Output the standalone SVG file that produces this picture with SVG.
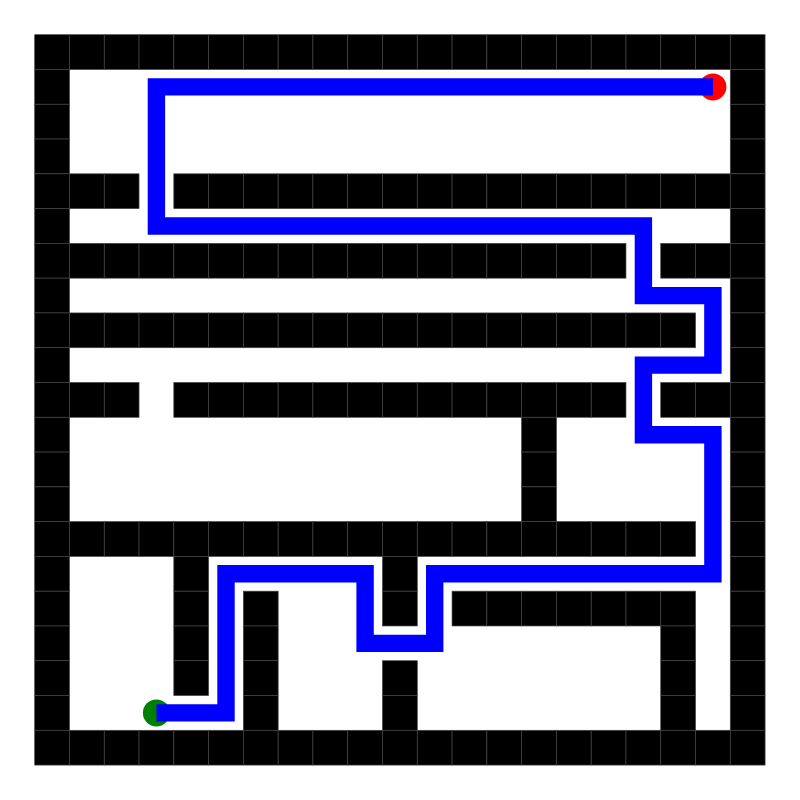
<svg xmlns="http://www.w3.org/2000/svg" xmlns:xlink="http://www.w3.org/1999/xlink" width="800" height="800" viewBox="0 0 800 800">
<style>
.wall use{fill:#000;stroke:#444;stroke-width:0.7}
.route{fill:none;stroke:#0000ff;stroke-width:17.4;stroke-linejoin:miter;stroke-linecap:butt}
</style>
<defs>
<rect id="b" width="34.78" height="34.78"/>
</defs>
<rect width="800" height="800" fill="#fff"/>
<g id="walls" class="wall" transform="translate(34.7,34.7)">
<!-- row 0 -->
<use href="#b" x="0" y="0"/><use href="#b" x="34.78" y="0"/><use href="#b" x="69.56" y="0"/><use href="#b" x="104.34" y="0"/><use href="#b" x="139.12" y="0"/><use href="#b" x="173.9" y="0"/><use href="#b" x="208.68" y="0"/><use href="#b" x="243.46" y="0"/><use href="#b" x="278.24" y="0"/><use href="#b" x="313.02" y="0"/><use href="#b" x="347.8" y="0"/><use href="#b" x="382.58" y="0"/><use href="#b" x="417.36" y="0"/><use href="#b" x="452.14" y="0"/><use href="#b" x="486.92" y="0"/><use href="#b" x="521.7" y="0"/><use href="#b" x="556.48" y="0"/><use href="#b" x="591.26" y="0"/><use href="#b" x="626.04" y="0"/><use href="#b" x="660.82" y="0"/><use href="#b" x="695.6" y="0"/>
<!-- rows 1-3 -->
<use href="#b" x="0" y="34.78"/><use href="#b" x="695.6" y="34.78"/>
<use href="#b" x="0" y="69.56"/><use href="#b" x="695.6" y="69.56"/>
<use href="#b" x="0" y="104.34"/><use href="#b" x="695.6" y="104.34"/>
<!-- row 4 -->
<use href="#b" x="0" y="139.12"/><use href="#b" x="34.78" y="139.12"/><use href="#b" x="69.56" y="139.12"/><use href="#b" x="139.12" y="139.12"/><use href="#b" x="173.9" y="139.12"/><use href="#b" x="208.68" y="139.12"/><use href="#b" x="243.46" y="139.12"/><use href="#b" x="278.24" y="139.12"/><use href="#b" x="313.02" y="139.12"/><use href="#b" x="347.8" y="139.12"/><use href="#b" x="382.58" y="139.12"/><use href="#b" x="417.36" y="139.12"/><use href="#b" x="452.14" y="139.12"/><use href="#b" x="486.92" y="139.12"/><use href="#b" x="521.7" y="139.12"/><use href="#b" x="556.48" y="139.12"/><use href="#b" x="591.26" y="139.12"/><use href="#b" x="626.04" y="139.12"/><use href="#b" x="660.82" y="139.12"/><use href="#b" x="695.6" y="139.12"/>
<!-- row 5 -->
<use href="#b" x="0" y="173.9"/><use href="#b" x="695.6" y="173.9"/>
<!-- row 6 -->
<use href="#b" x="0" y="208.68"/><use href="#b" x="34.78" y="208.68"/><use href="#b" x="69.56" y="208.68"/><use href="#b" x="104.34" y="208.68"/><use href="#b" x="139.12" y="208.68"/><use href="#b" x="173.9" y="208.68"/><use href="#b" x="208.68" y="208.68"/><use href="#b" x="243.46" y="208.68"/><use href="#b" x="278.24" y="208.68"/><use href="#b" x="313.02" y="208.68"/><use href="#b" x="347.8" y="208.68"/><use href="#b" x="382.58" y="208.68"/><use href="#b" x="417.36" y="208.68"/><use href="#b" x="452.14" y="208.68"/><use href="#b" x="486.92" y="208.68"/><use href="#b" x="521.7" y="208.68"/><use href="#b" x="556.48" y="208.68"/><use href="#b" x="626.04" y="208.68"/><use href="#b" x="660.82" y="208.68"/><use href="#b" x="695.6" y="208.68"/>
<!-- row 7 -->
<use href="#b" x="0" y="243.46"/><use href="#b" x="695.6" y="243.46"/>
<!-- row 8 -->
<use href="#b" x="0" y="278.24"/><use href="#b" x="34.78" y="278.24"/><use href="#b" x="69.56" y="278.24"/><use href="#b" x="104.34" y="278.24"/><use href="#b" x="139.12" y="278.24"/><use href="#b" x="173.9" y="278.24"/><use href="#b" x="208.68" y="278.24"/><use href="#b" x="243.46" y="278.24"/><use href="#b" x="278.24" y="278.24"/><use href="#b" x="313.02" y="278.24"/><use href="#b" x="347.8" y="278.24"/><use href="#b" x="382.58" y="278.24"/><use href="#b" x="417.36" y="278.24"/><use href="#b" x="452.14" y="278.24"/><use href="#b" x="486.92" y="278.24"/><use href="#b" x="521.7" y="278.24"/><use href="#b" x="556.48" y="278.24"/><use href="#b" x="591.26" y="278.24"/><use href="#b" x="626.04" y="278.24"/><use href="#b" x="695.6" y="278.24"/>
<!-- row 9 -->
<use href="#b" x="0" y="313.02"/><use href="#b" x="695.6" y="313.02"/>
<!-- row 10 -->
<use href="#b" x="0" y="347.8"/><use href="#b" x="34.78" y="347.8"/><use href="#b" x="69.56" y="347.8"/><use href="#b" x="139.12" y="347.8"/><use href="#b" x="173.9" y="347.8"/><use href="#b" x="208.68" y="347.8"/><use href="#b" x="243.46" y="347.8"/><use href="#b" x="278.24" y="347.8"/><use href="#b" x="313.02" y="347.8"/><use href="#b" x="347.8" y="347.8"/><use href="#b" x="382.58" y="347.8"/><use href="#b" x="417.36" y="347.8"/><use href="#b" x="452.14" y="347.8"/><use href="#b" x="486.92" y="347.8"/><use href="#b" x="521.7" y="347.8"/><use href="#b" x="556.48" y="347.8"/><use href="#b" x="626.04" y="347.8"/><use href="#b" x="660.82" y="347.8"/><use href="#b" x="695.6" y="347.8"/>
<!-- rows 11-13 -->
<use href="#b" x="0" y="382.58"/><use href="#b" x="486.92" y="382.58"/><use href="#b" x="695.6" y="382.58"/>
<use href="#b" x="0" y="417.36"/><use href="#b" x="486.92" y="417.36"/><use href="#b" x="695.6" y="417.36"/>
<use href="#b" x="0" y="452.14"/><use href="#b" x="486.92" y="452.14"/><use href="#b" x="695.6" y="452.14"/>
<!-- row 14 -->
<use href="#b" x="0" y="486.92"/><use href="#b" x="34.78" y="486.92"/><use href="#b" x="69.56" y="486.92"/><use href="#b" x="104.34" y="486.92"/><use href="#b" x="139.12" y="486.92"/><use href="#b" x="173.9" y="486.92"/><use href="#b" x="208.68" y="486.92"/><use href="#b" x="243.46" y="486.92"/><use href="#b" x="278.24" y="486.92"/><use href="#b" x="313.02" y="486.92"/><use href="#b" x="347.8" y="486.92"/><use href="#b" x="382.58" y="486.92"/><use href="#b" x="417.36" y="486.92"/><use href="#b" x="452.14" y="486.92"/><use href="#b" x="486.92" y="486.92"/><use href="#b" x="521.7" y="486.92"/><use href="#b" x="556.48" y="486.92"/><use href="#b" x="591.26" y="486.92"/><use href="#b" x="626.04" y="486.92"/><use href="#b" x="695.6" y="486.92"/>
<!-- row 15 -->
<use href="#b" x="0" y="521.7"/><use href="#b" x="139.12" y="521.7"/><use href="#b" x="347.8" y="521.7"/><use href="#b" x="695.6" y="521.7"/>
<!-- row 16 -->
<use href="#b" x="0" y="556.48"/><use href="#b" x="139.12" y="556.48"/><use href="#b" x="208.68" y="556.48"/><use href="#b" x="347.8" y="556.48"/><use href="#b" x="417.36" y="556.48"/><use href="#b" x="452.14" y="556.48"/><use href="#b" x="486.92" y="556.48"/><use href="#b" x="521.7" y="556.48"/><use href="#b" x="556.48" y="556.48"/><use href="#b" x="591.26" y="556.48"/><use href="#b" x="626.04" y="556.48"/><use href="#b" x="695.6" y="556.48"/>
<!-- row 17 -->
<use href="#b" x="0" y="591.26"/><use href="#b" x="139.12" y="591.26"/><use href="#b" x="208.68" y="591.26"/><use href="#b" x="626.04" y="591.26"/><use href="#b" x="695.6" y="591.26"/>
<!-- row 18 -->
<use href="#b" x="0" y="626.04"/><use href="#b" x="139.12" y="626.04"/><use href="#b" x="208.68" y="626.04"/><use href="#b" x="347.8" y="626.04"/><use href="#b" x="626.04" y="626.04"/><use href="#b" x="695.6" y="626.04"/>
<!-- row 19 -->
<use href="#b" x="0" y="660.82"/><use href="#b" x="208.68" y="660.82"/><use href="#b" x="347.8" y="660.82"/><use href="#b" x="626.04" y="660.82"/><use href="#b" x="695.6" y="660.82"/>
<!-- row 20 -->
<use href="#b" x="0" y="695.6"/><use href="#b" x="34.78" y="695.6"/><use href="#b" x="69.56" y="695.6"/><use href="#b" x="104.34" y="695.6"/><use href="#b" x="139.12" y="695.6"/><use href="#b" x="173.9" y="695.6"/><use href="#b" x="208.68" y="695.6"/><use href="#b" x="243.46" y="695.6"/><use href="#b" x="278.24" y="695.6"/><use href="#b" x="313.02" y="695.6"/><use href="#b" x="347.8" y="695.6"/><use href="#b" x="382.58" y="695.6"/><use href="#b" x="417.36" y="695.6"/><use href="#b" x="452.14" y="695.6"/><use href="#b" x="486.92" y="695.6"/><use href="#b" x="521.7" y="695.6"/><use href="#b" x="556.48" y="695.6"/><use href="#b" x="591.26" y="695.6"/><use href="#b" x="626.04" y="695.6"/><use href="#b" x="660.82" y="695.6"/><use href="#b" x="695.6" y="695.6"/>
</g>
<g id="start"><circle cx="156.4" cy="712.9" r="13.5" fill="#008000"/></g>
<g id="goal"><circle cx="712.9" cy="86.9" r="13.5" fill="#ff0000"/></g>
<g id="connectors">
<path class="route" d="M156.4,712.9 H226 V573.8 H365.1 V643.4 H434.7 V573.8 H712.9 V434.7 H643.4 V365.1 H712.9 V295.6 H643.4 V226 H156.4 V86.9 H712.9"/>
</g>
</svg>
